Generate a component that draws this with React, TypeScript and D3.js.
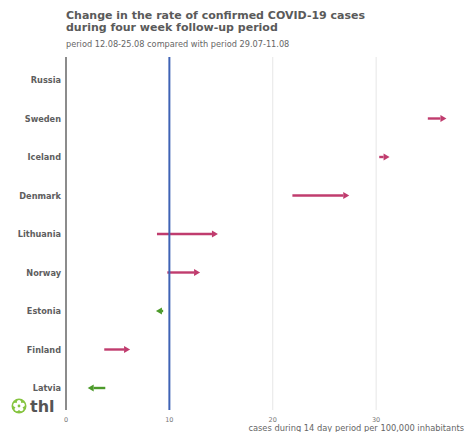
import React from "react";
import * as d3 from "d3";

const countries = ["Russia", "Sweden", "Iceland", "Denmark", "Lithuania", "Norway", "Estonia", "Finland", "Latvia"];
const previousRate: (number | null)[] = [null, 35.0, 30.3, 21.9, 8.8, 9.8, 9.4, 3.7, 3.8];
const currentRate: (number | null)[] = [null, 36.8, 31.3, 27.4, 14.7, 12.97, 8.7, 6.2, 2.1];
const xTicks = [0, 10, 20, 30];
const referenceValue = 10;

const W = 464;
const H = 432;
const M = { left: 66, right: 464, top: 57, bottom: 410 };
const UP = "#c03c6e";
const DOWN = "#4c9a2a";
const FONT = "DejaVu Sans, sans-serif";

export default function App() {
  const x = d3.scaleLinear().domain([0, 38.5]).range([M.left, M.right]);
  const y = d3.scalePoint<string>().domain(countries).range([80, 388]);

  const head = 6;
  return (
    <div style={{ position: "absolute", left: 0, top: 0 }}>
      <svg width={W} height={H} style={{ display: "block", fontFamily: FONT }}>
        <rect width={W} height={H} fill="#fff" />
        <text x={66} y={19} fontSize={11} fontWeight="bold" fill="#5a5a5a">Change in the rate of confirmed COVID-19 cases</text>
        <text x={66} y={30.5} fontSize={11} fontWeight="bold" fill="#5a5a5a">during four week follow-up period</text>
        <text x={66} y={47} fontSize={8.2} fill="#666">period 12.08-25.08 compared with period 29.07-11.08</text>

        {xTicks.filter((t) => t !== 0 && t !== referenceValue).map((t) => (
          <line key={t} x1={x(t)} x2={x(t)} y1={M.top} y2={M.bottom} stroke="#e6e6e6" strokeWidth={1} />
        ))}
        {xTicks.map((t) => (
          <text key={"l" + t} x={x(t)} y={421.5} fontSize={6.5} fill="#777" textAnchor="middle">{t}</text>
        ))}
        <text x={464} y={431} fontSize={8.3} fill="#666" textAnchor="end">cases during 14 day period per 100,000 inhabitants</text>

        <line x1={x(0)} x2={x(0)} y1={M.top} y2={M.bottom} stroke="#666" strokeWidth={1.5} />

        {countries.map((c) => (
          <text key={c} x={61} y={(y(c) ?? 0) + 3} fontSize={8.2} fontWeight="bold" fill="#5e5e5e" textAnchor="end">{c}</text>
        ))}

        {countries.map((c, i) => {
          const a = previousRate[i];
          const b = currentRate[i];
          if (a == null || b == null) return null;
          const yy = y(c) ?? 0;
          const x1 = x(a);
          const x2 = x(b);
          const dir = x2 >= x1 ? 1 : -1;
          const col = dir > 0 ? UP : DOWN;
          const base = x2 - dir * head;
          return (
            <g key={"a" + c}>
              <line x1={x1} x2={base} y1={yy} y2={yy} stroke={col} strokeWidth={2.4} />
              <path d={`M${x2},${yy} L${base},${yy - 3.6} L${base},${yy + 3.6} Z`} fill={col} />
            </g>
          );
        })}

        <line x1={x(referenceValue)} x2={x(referenceValue)} y1={M.top} y2={M.bottom} stroke="#3f63b5" strokeWidth={2} />

        <g transform="translate(19,406)">
          <circle r={7.5} fill="#86c440" />
          {[0, 72, 144, 216, 288].map((ang) => (
            <ellipse key={ang} cx={0} cy={-3.2} rx={2.2} ry={2.8} fill="#fff" transform={`rotate(${ang})`} />
          ))}
          <circle r={1.4} fill="#86c440" />
        </g>
        <text x={30} y={412} fontSize={16} fontWeight="bold" fill="#555">thl</text>
      </svg>
    </div>
  );
}
